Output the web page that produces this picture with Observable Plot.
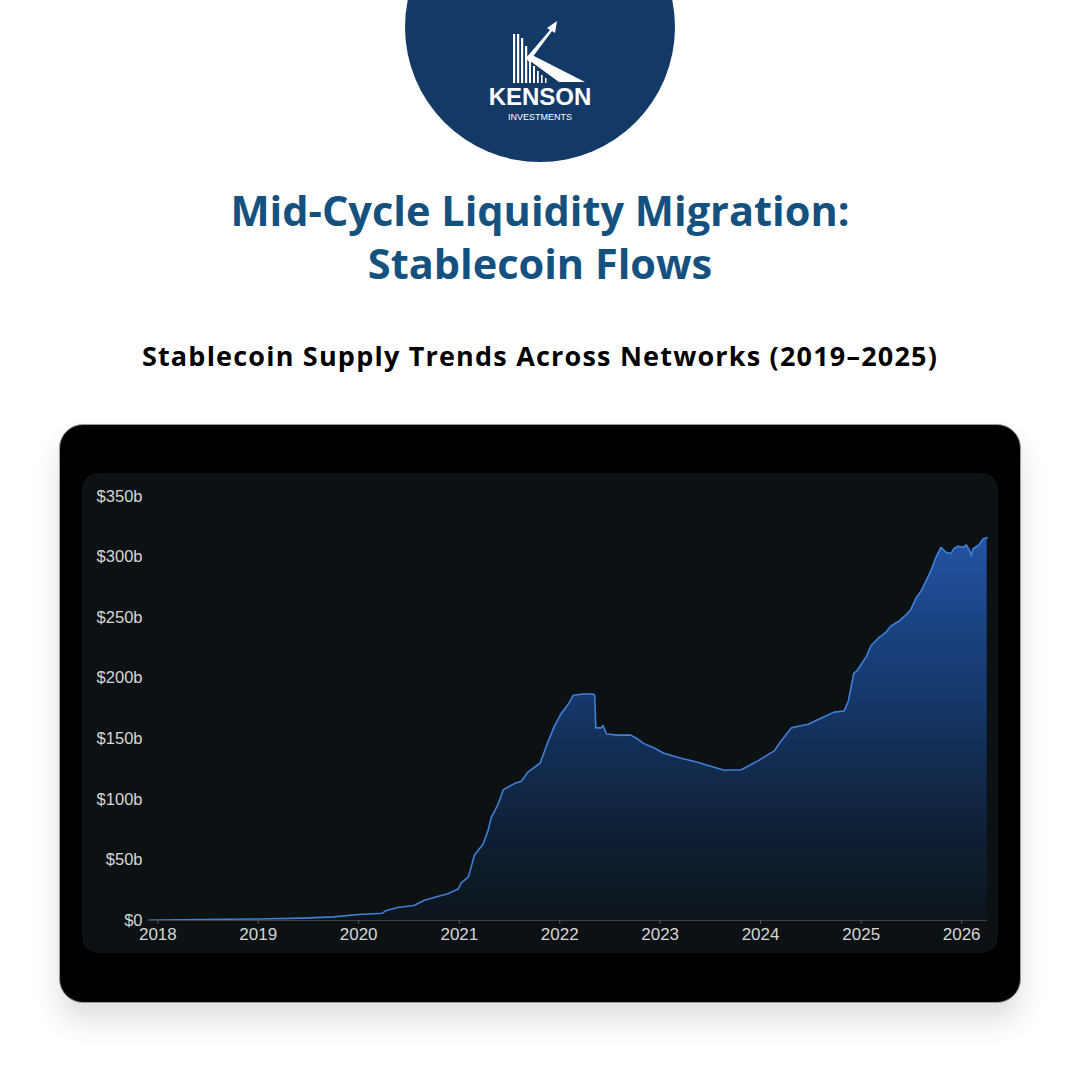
<!DOCTYPE html>
<html>
<head>
<meta charset="utf-8">
<script src="https://cdn.jsdelivr.net/npm/d3@7"></script>
<script src="https://cdn.jsdelivr.net/npm/@observablehq/plot@0.6"></script>
<style>
  html, body { margin: 0; padding: 0; background: #ffffff; }
  body { width: 1080px; height: 1080px; position: relative; overflow: hidden; font-family: "Open Sans", "Lato", sans-serif; }
  .logo { position: absolute; left: 405px; top: -108px; width: 270px; height: 270px; border-radius: 50%; background: #133a67; }
  .logo svg { position: absolute; left: 0; top: 0; }
  .title { position: absolute; left: 0; width: 1080px; top: 184px; text-align: center; color: #14517f; font-weight: 700; font-size: 41.5px; line-height: 53px; letter-spacing: 0px; }
  .subtitle { position: absolute; left: 0; width: 1080px; top: 338px; text-align: center; color: #000; font-weight: 700; font-size: 27px; line-height: 36px; letter-spacing: 1.2px; }
  .device { position: absolute; left: 59px; top: 424px; width: 960px; height: 577px; background: #000; border: 1px solid #9a9a9a; border-radius: 24px; box-shadow: 0 18px 28px rgba(0,0,0,0.13); }
  .panel { position: absolute; left: 82px; top: 473px; width: 916px; height: 480px; background: #0c1214; border-radius: 16px; overflow: hidden; }
</style>
</head>
<body>
<div class="logo">
  <svg width="270" height="270" viewBox="0 0 270 270">
    <g transform="translate(0,108)" fill="#ffffff">
      <rect x="108" y="34" width="2.2" height="49"/>
      <rect x="112" y="34" width="2.2" height="49"/>
      <rect x="116" y="38" width="2.2" height="45"/>
      <rect x="120" y="46" width="2.2" height="37"/>
      <rect x="124" y="60" width="2" height="23"/>
      <rect x="128" y="66" width="2" height="17"/>
      <rect x="132" y="71" width="1.8" height="12"/>
      <rect x="136" y="75" width="1.6" height="8"/>
      <rect x="140" y="78" width="1.5" height="5"/>
      <polygon points="121,58 145,30 142,28 152,21 150,33 147,31 124,62"/>
      <polygon points="121,58 127,55 180,82 154,82"/>
    </g>
    <text x="135" y="213" text-anchor="middle" fill="#fff" font-family="Liberation Sans, Arial, sans-serif" font-weight="700" font-size="24">KENSON</text>
    <text x="135" y="228" text-anchor="middle" fill="#fff" font-family="Liberation Sans, Arial, sans-serif" font-size="9">INVESTMENTS</text>
  </svg>
</div>
<div class="title">Mid-Cycle Liquidity Migration:<br>Stablecoin Flows</div>
<div class="subtitle">Stablecoin Supply Trends Across Networks (2019–2025)</div>
<div class="device"></div>
<div class="panel" id="chart"></div>
<script>
const dates = [
  "2017-11-28","2018-01-01","2018-06-01","2019-01-01","2019-06-15","2019-10-01","2020-01-01",
  "2020-03-28","2020-04-08","2020-05-22","2020-07-20","2020-08-25","2020-10-01","2020-11-20",
  "2020-12-28","2021-01-08","2021-02-03","2021-02-25","2021-03-28","2021-04-15","2021-04-27",
  "2021-05-22","2021-06-10","2021-07-20","2021-08-15","2021-09-05","2021-10-22","2021-11-20",
  "2021-12-12","2022-01-04","2022-02-02","2022-02-20","2022-03-28","2022-05-01","2022-05-08",
  "2022-05-12","2022-06-01","2022-06-07","2022-06-20","2022-08-01","2022-09-16","2022-10-10",
  "2022-11-03","2022-12-05","2023-01-15","2023-03-18","2023-05-10","2023-06-25","2023-08-22",
  "2023-10-23","2023-12-24","2024-02-20","2024-03-15","2024-04-22","2024-05-10","2024-06-22",
  "2024-08-08","2024-09-24","2024-10-31","2024-11-15","2024-12-05","2024-12-16","2025-01-20",
  "2025-02-06","2025-03-04","2025-04-01","2025-04-18","2025-05-18","2025-06-12","2025-07-01",
  "2025-07-19","2025-08-07","2025-08-24","2025-09-12","2025-09-30","2025-10-18","2025-11-05",
  "2025-11-24","2025-12-04","2025-12-19","2026-01-07","2026-01-18","2026-01-29","2026-02-05",
  "2026-02-12","2026-03-05","2026-03-20","2026-04-04"
];
const supply = [
  0.2,0.4,0.8,1.2,2.0,3.0,5.0,
  6.0,8.0,10.7,12.4,16.5,19,22,
  26,31,36,54,63,74,85,
  96,108,113,115,122,130,148,
  160,170,179,186,187,187,186,
  159,159,161,154,153,153,150,
  146,143,138,134,131,128,124,
  124.5,132,140,148,159,160,162,
  167,172,173,181,204,206,218,
  227,233,238,243,247,252,257,
  266,272,280,289,300,308,304,
  303,307,309,308,310,306,301,
  307,310,315,316
];
const yTicks = [0,50,100,150,200,250,300,350];
const yLabels = ["$0","$50b","$100b","$150b","$200b","$250b","$300b","$350b"];
const xTickYears = [2018,2019,2020,2021,2022,2023,2024,2025,2026];

const data = dates.map((d, i) => ({date: new Date(d + "T00:00:00Z"), value: supply[i]}));

const defs = () => {
  const g = d3.create("svg:defs");
  const lg = g.append("linearGradient")
    .attr("id", "areaGrad")
    .attr("gradientUnits", "userSpaceOnUse")
    .attr("x1", 0).attr("x2", 0).attr("y1", 60).attr("y2", 447);
  lg.append("stop").attr("offset", "0%").attr("stop-color", "#2458ad").attr("stop-opacity", 0.95);
  lg.append("stop").attr("offset", "45%").attr("stop-color", "#173f7c").attr("stop-opacity", 0.8);
  lg.append("stop").attr("offset", "100%").attr("stop-color", "#0c1620").attr("stop-opacity", 0.6);
  return g.node();
};

const chart = Plot.plot({
  width: 916,
  height: 480,
  marginLeft: 66,
  marginRight: 11,
  marginTop: 23,
  marginBottom: 33,
  style: { background: "transparent", fontFamily: "Liberation Sans, Arial, sans-serif", fontSize: "16px", color: "#d6d6d6" },
  x: {
    type: "utc",
    domain: [new Date("2017-11-28T00:00:00Z"), new Date("2026-04-05T00:00:00Z")]
  },
  y: { domain: [0, 350] },
  marks: [
    defs,
    Plot.areaY(data, {x: "date", y: "value", fill: "url(#areaGrad)", curve: "linear"}),
    Plot.lineY(data, {x: "date", y: "value", stroke: "#3f7fd6", strokeWidth: 1.6, curve: "linear"}),
    Plot.ruleY([0], {stroke: "#3a3f44", strokeWidth: 1}),
    Plot.axisY({ticks: yTicks, tickFormat: (d) => yLabels[yTicks.indexOf(d)], tickSize: 0, tickPadding: 6, fill: "#d6d6d6", fontSize: 16.5, label: null}),
    Plot.axisX({ticks: xTickYears.map(y => new Date(Date.UTC(y, 0, 1))), tickFormat: d3.utcFormat("%Y"), tickSize: 4, tickPadding: 3, stroke: "#55595e", fill: "#d6d6d6", fontSize: 17, label: null})
  ]
});
document.getElementById("chart").appendChild(chart);
</script>
</body>
</html>
